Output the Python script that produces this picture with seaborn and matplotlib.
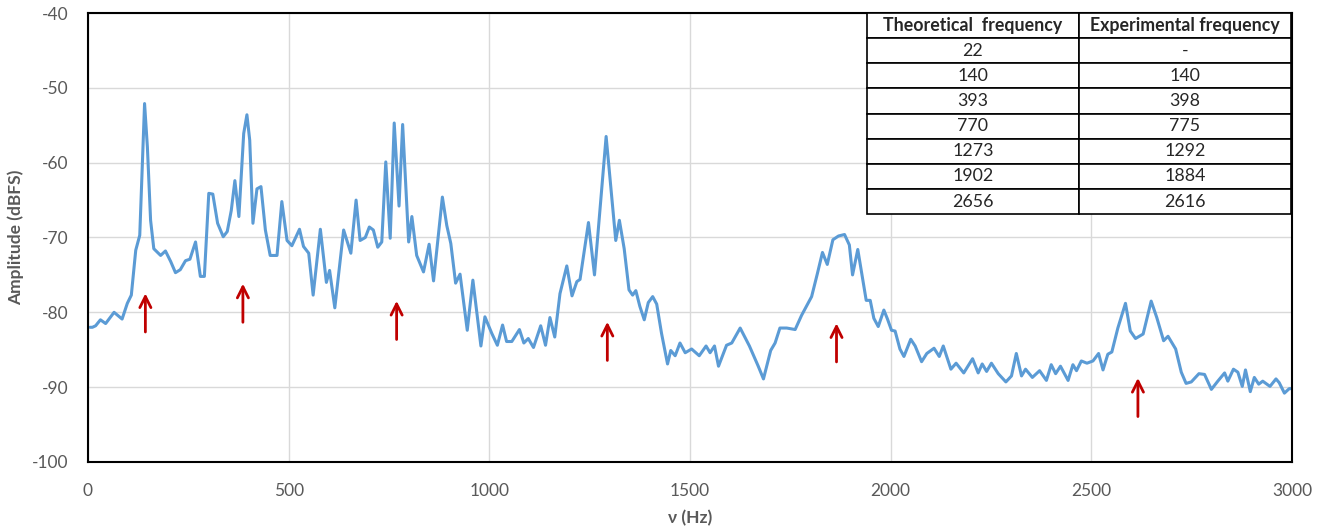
import matplotlib
matplotlib.use("Agg")
import matplotlib.pyplot as plt
import pandas as pd
import seaborn as sns

# Spectrum (Hz, dBFS)
freq_hz = [5, 11, 19, 31, 44, 65, 85, 98, 108, 119, 129, 141, 148, 156, 164, 181, 193, 206, 218, 230,
           243, 254, 268, 280, 290, 301, 311, 323, 337, 347, 357, 366, 376, 388, 396, 403, 411, 421,
           431, 442, 454, 471, 483, 496, 508, 527, 537, 550, 561, 579, 594, 602, 615, 637, 655, 668,
           678, 691, 701, 711, 722, 732, 742, 753, 763, 775, 784, 799, 807, 819, 836, 850, 861, 883,
           894, 904, 916, 927, 945, 959, 979, 989, 1006, 1020, 1033, 1043, 1056, 1075, 1086, 1097,
           1110, 1128, 1140, 1151, 1163, 1176, 1193, 1206, 1218, 1226, 1247, 1262, 1291, 1305, 1315,
           1324, 1336, 1348, 1357, 1365, 1375, 1386, 1396, 1407, 1417, 1429, 1444, 1452, 1463, 1475,
           1488, 1504, 1523, 1540, 1550, 1561, 1571, 1591, 1604, 1625, 1648, 1670, 1683, 1701, 1712,
           1724, 1741, 1762, 1778, 1803, 1817, 1830, 1842, 1856, 1870, 1885, 1897, 1905, 1918, 1928,
           1939, 1949, 1958, 1969, 1983, 1992, 2002, 2011, 2023, 2033, 2050, 2061, 2077, 2090, 2108,
           2121, 2131, 2150, 2163, 2182, 2204, 2218, 2228, 2239, 2251, 2268, 2287, 2301, 2313, 2326,
           2336, 2353, 2371, 2388, 2400, 2411, 2423, 2442, 2454, 2463, 2475, 2489, 2504, 2518, 2529,
           2541, 2551, 2566, 2585, 2597, 2610, 2629, 2649, 2663, 2680, 2691, 2710, 2724, 2736, 2749,
           2768, 2782, 2799, 2815, 2832, 2840, 2854, 2865, 2876, 2884, 2896, 2906, 2917, 2927, 2945,
           2960, 2968, 2981, 2993, 3000]
amp_dbfs = [-82.0, -82.0, -81.8, -81.0, -81.5, -80.0, -80.9, -78.8, -77.7, -71.7, -69.7, -52.1, -57.9,
            -67.7, -71.5, -72.4, -71.8, -73.2, -74.7, -74.3, -73.1, -72.9, -70.6, -75.2, -75.2, -64.1,
            -64.2, -68.1, -69.9, -69.2, -66.4, -62.4, -67.2, -56.1, -53.6, -57.0, -68.1, -63.5, -63.2,
            -69.0, -72.4, -72.4, -65.2, -70.4, -71.1, -68.9, -71.2, -72.1, -77.7, -68.9, -76.0, -74.4,
            -79.4, -69.0, -72.1, -65.0, -70.4, -70.0, -68.6, -69.0, -71.3, -70.6, -59.9, -70.1, -54.7,
            -65.8, -54.9, -70.6, -67.2, -72.4, -74.6, -70.9, -75.8, -64.6, -68.4, -70.8, -76.1, -74.9,
            -82.4, -75.7, -84.5, -80.6, -82.8, -84.4, -81.7, -83.9, -83.9, -82.3, -84.1, -83.5, -84.7,
            -81.8, -84.4, -80.7, -83.3, -77.5, -73.8, -77.8, -75.9, -75.6, -68.0, -75.0, -56.5, -64.6,
            -70.4, -67.7, -71.5, -77.0, -77.7, -77.1, -79.2, -81.0, -78.7, -77.9, -78.9, -82.8, -86.9,
            -85.1, -85.8, -84.1, -85.4, -84.9, -85.8, -84.5, -85.4, -84.5, -87.2, -84.4, -84.1, -82.1,
            -84.5, -87.2, -88.9, -85.1, -84.1, -82.1, -82.1, -82.3, -80.4, -77.9, -74.9, -72.0, -73.6,
            -70.3, -69.8, -69.6, -71.0, -75.0, -71.6, -74.8, -78.4, -78.4, -80.8, -81.9, -79.7, -80.9,
            -82.4, -82.5, -84.9, -85.9, -83.6, -84.5, -86.6, -85.5, -84.8, -85.9, -84.5, -87.6, -86.8,
            -88.1, -86.2, -88.1, -86.9, -87.9, -86.8, -88.2, -89.3, -88.5, -85.5, -88.5, -87.6, -88.7,
            -87.8, -89.1, -87.0, -88.2, -87.2, -89.1, -87.0, -87.8, -86.5, -86.8, -86.5, -85.5, -87.7,
            -85.6, -85.3, -82.1, -78.8, -82.5, -83.5, -82.9, -78.5, -80.7, -83.8, -83.2, -84.9, -88.0,
            -89.5, -89.3, -88.2, -88.3, -90.3, -89.2, -88.1, -89.2, -87.6, -88.0, -89.9, -87.7, -90.6,
            -88.7, -89.6, -89.2, -89.9, -88.9, -89.4, -90.8, -90.2, -90.2]

# Red arrows under the resonance peaks
arrow_hz = [143, 386, 769, 1294, 1865, 2616]
arrow_tip = [-77.1, -75.8, -78.1, -80.9, -81.1, -88.4]
arrow_len = 5.9

# Table
col_labels = ["Theoretical  frequency", "Experimental frequency"]
theoretical = ["22", "140", "393", "770", "1273", "1902", "2656"]
experimental = ["-", "140", "398", "775", "1292", "1884", "2616"]

df = pd.DataFrame({"freq": freq_hz, "amp": amp_dbfs})

sns.set_style("white")
plt.rcParams["font.family"] = ["Lato", "DejaVu Sans"]
plt.rcParams["axes.unicode_minus"] = False

fig = plt.figure(figsize=(13.23, 5.29), dpi=100)
ax = fig.add_axes([0.0665, 0.1267, 0.9101, 0.8487])

sns.lineplot(data=df, x="freq", y="amp", ax=ax, color="#5B9BD5", linewidth=2.2, sort=False,
             solid_joinstyle="round")

for x, tip in zip(arrow_hz, arrow_tip):
    ax.annotate("", xy=(x, tip), xytext=(x, tip - arrow_len),
                arrowprops=dict(arrowstyle="->", color="#C00000", lw=2, mutation_scale=20))

ax.set_xlim(0, 3000)
ax.set_ylim(-100, -40)
ax.set_xticks(range(0, 3001, 500))
ax.set_yticks(range(-100, -39, 10))
ax.grid(True, color="#D9D9D9", linewidth=1)
ax.set_axisbelow(True)
for s in ax.spines.values():
    s.set_color("black")
    s.set_linewidth(1.5)
ax.tick_params(axis="both", length=0, labelsize=12.5, colors="#595959")
ax.tick_params(axis="x", pad=15)
ax.tick_params(axis="y", pad=14)
ax.set_xlabel("ν (Hz)", fontsize=12.5, fontweight="bold", color="#595959", labelpad=8)
ax.set_ylabel("Amplitude (dBFS)", fontsize=12.5, fontweight="bold", color="#595959", labelpad=6)

rows = [[t, e] for t, e in zip(theoretical, experimental)]
tbl = ax.table(cellText=rows, colLabels=col_labels, cellLoc="center",
               bbox=[0.647, 0.552, 0.352, 0.448], zorder=5)
tbl.auto_set_font_size(False)
for (r, c), cell in tbl.get_celld().items():
    cell.set_edgecolor("black")
    cell.set_linewidth(1.2)
    cell.set_facecolor("white")
    cell.get_text().set_fontsize(12.8)
    if r == 0:
        cell.get_text().set_fontweight("bold")

fig.savefig("out.png", dpi=100)
